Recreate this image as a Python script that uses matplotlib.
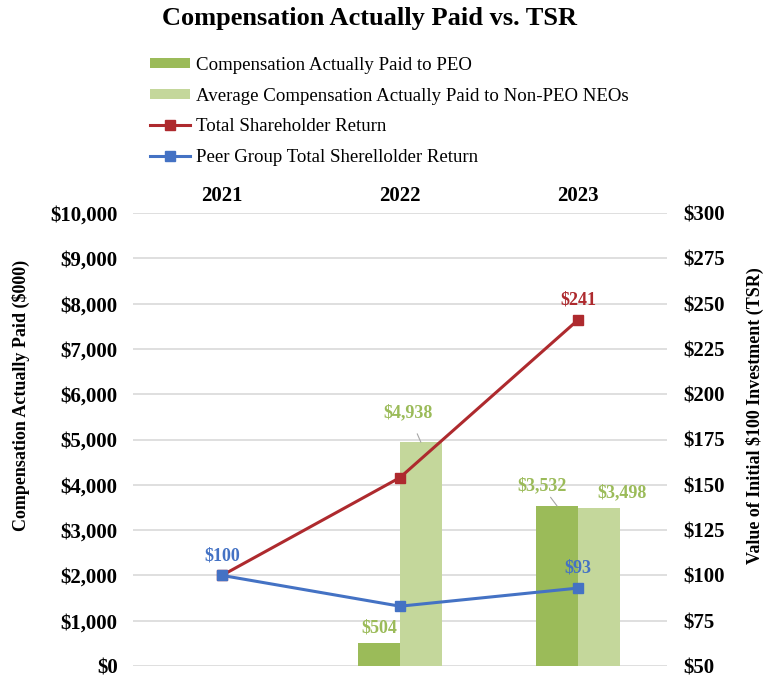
#!/usr/bin/env python3

import matplotlib
matplotlib.use("Agg")
import matplotlib.pyplot as plt
import numpy as np

years = ["2021", "2022", "2023"]
cap_peo = [np.nan, 504, 3532]
cap_non_peo = [np.nan, 4938, 3498]
tsr = [100, 154, 241]
peer_tsr = [100, 83, 93]

left_ticks = list(range(0, 10001, 1000))
right_ticks = list(range(50, 301, 25))

DARK_GREEN = "#9BBB59"
LIGHT_GREEN = "#C4D79B"
RED = "#AE2A2E"
BLUE = "#4472C4"
GRID = "#D9D9D9"

plt.rcParams["font.family"] = ["Liberation Serif", "DejaVu Serif"]


def main():
    fig = plt.figure(figsize=(7.65, 6.81), dpi=100)
    ax = fig.add_axes([133 / 765, 1 - 666 / 681, 534 / 765, 453 / 681])
    ax2 = ax.twinx()

    x = np.arange(len(years))
    width = 0.235
    ax.bar(x - width / 2, cap_peo, width, color=DARK_GREEN, label="Compensation Actually Paid to PEO", zorder=2)
    ax.bar(x + width / 2, cap_non_peo, width, color=LIGHT_GREEN,
           label="Average Compensation Actually Paid to Non-PEO NEOs", zorder=2)

    ax2.plot(x, tsr, color=RED, lw=2.2, marker="s", ms=7, label="Total Shareholder Return")
    ax2.plot(x, peer_tsr, color=BLUE, lw=2.2, marker="s", ms=7, label="Peer Group Total Sherellolder Return")

    ax.set_xlim(-0.5, 2.5)
    ax.set_ylim(0, 10000)
    ax2.set_ylim(50, 300)
    ax.set_yticks(left_ticks)
    ax.set_yticklabels([f"${v:,}" for v in left_ticks])
    ax2.set_yticks(right_ticks)
    ax2.set_yticklabels([f"${v}" for v in right_ticks])
    ax.set_xticks(x)
    ax.set_xticklabels(years)
    ax.xaxis.tick_top()

    for a in (ax, ax2):
        for s in a.spines.values():
            s.set_visible(False)
        a.tick_params(length=0, labelsize=15)
        for lab in a.get_yticklabels() + a.get_xticklabels():
            lab.set_fontweight("bold")
    ax.tick_params(axis="y", pad=11)
    ax2.tick_params(axis="y", pad=12)
    ax.tick_params(axis="x", pad=5)
    ax.grid(axis="y", color=GRID, lw=1.2, zorder=0)
    ax.set_axisbelow(True)

    fig.text(21 / 765, 1 - 395 / 681, "Compensation Actually Paid ($000)", rotation=90,
             ha="center", va="center", fontsize=13, fontweight="bold")
    fig.text(755 / 765, 1 - 416 / 681, "Value of Initial $100 Investment (TSR)", rotation=90,
             ha="center", va="center", fontsize=13, fontweight="bold")

    lab_kw = dict(ha="center", va="center", fontsize=13, fontweight="bold")
    # bar labels
    ax.annotate(f"${cap_peo[1]:,}", (x[1] - width / 2, cap_peo[1]), xytext=(0, 15),
                textcoords="offset pixels", color=DARK_GREEN, **lab_kw)
    ax.annotate(f"${cap_non_peo[1]:,}", (x[1] + width / 2, cap_non_peo[1]), xytext=(-13, 30),
                textcoords="offset pixels", color=DARK_GREEN,
                arrowprops=dict(arrowstyle="-", color="#A6A6A6", lw=0.8, shrinkA=8, shrinkB=0), **lab_kw)
    ax.annotate(f"${cap_peo[2]:,}", (x[2] - width / 2, cap_peo[2]), xytext=(-15, 20),
                textcoords="offset pixels", color=DARK_GREEN,
                arrowprops=dict(arrowstyle="-", color="#A6A6A6", lw=0.8, shrinkA=8, shrinkB=0), **lab_kw)
    ax.annotate(f"${cap_non_peo[2]:,}", (x[2] + width / 2, cap_non_peo[2]), xytext=(23, 15),
                textcoords="offset pixels", color=DARK_GREEN, **lab_kw)
    # line labels
    ax2.annotate(f"${tsr[2]}", (x[2], tsr[2]), xytext=(0, 20), textcoords="offset pixels",
                 color=RED, **lab_kw)
    ax2.annotate(f"${peer_tsr[0]}", (x[0], peer_tsr[0]), xytext=(0, 19), textcoords="offset pixels",
                 color=BLUE, **lab_kw)
    ax2.annotate(f"${peer_tsr[2]}", (x[2], peer_tsr[2]), xytext=(0, 20), textcoords="offset pixels",
                 color=BLUE, **lab_kw)

    fig.text(369 / 765, 1 - 19 / 681, "Compensation Actually Paid vs. TSR", ha="center", va="center",
             fontsize=19, fontweight="bold")

    h1, l1 = ax.get_legend_handles_labels()
    h2, l2 = ax2.get_legend_handles_labels()
    fig.legend(h1 + h2, l1 + l2, loc="upper left", bbox_to_anchor=(150 / 765, 1 - 57 / 681),
               frameon=False, fontsize=13.6, handlelength=2.1, handleheight=0.45,
               labelspacing=0.72, handletextpad=0.35, borderpad=0, borderaxespad=0)

    fig.savefig("out.png", dpi=100)
    plt.close(fig)


if __name__ == "__main__":
    main()
